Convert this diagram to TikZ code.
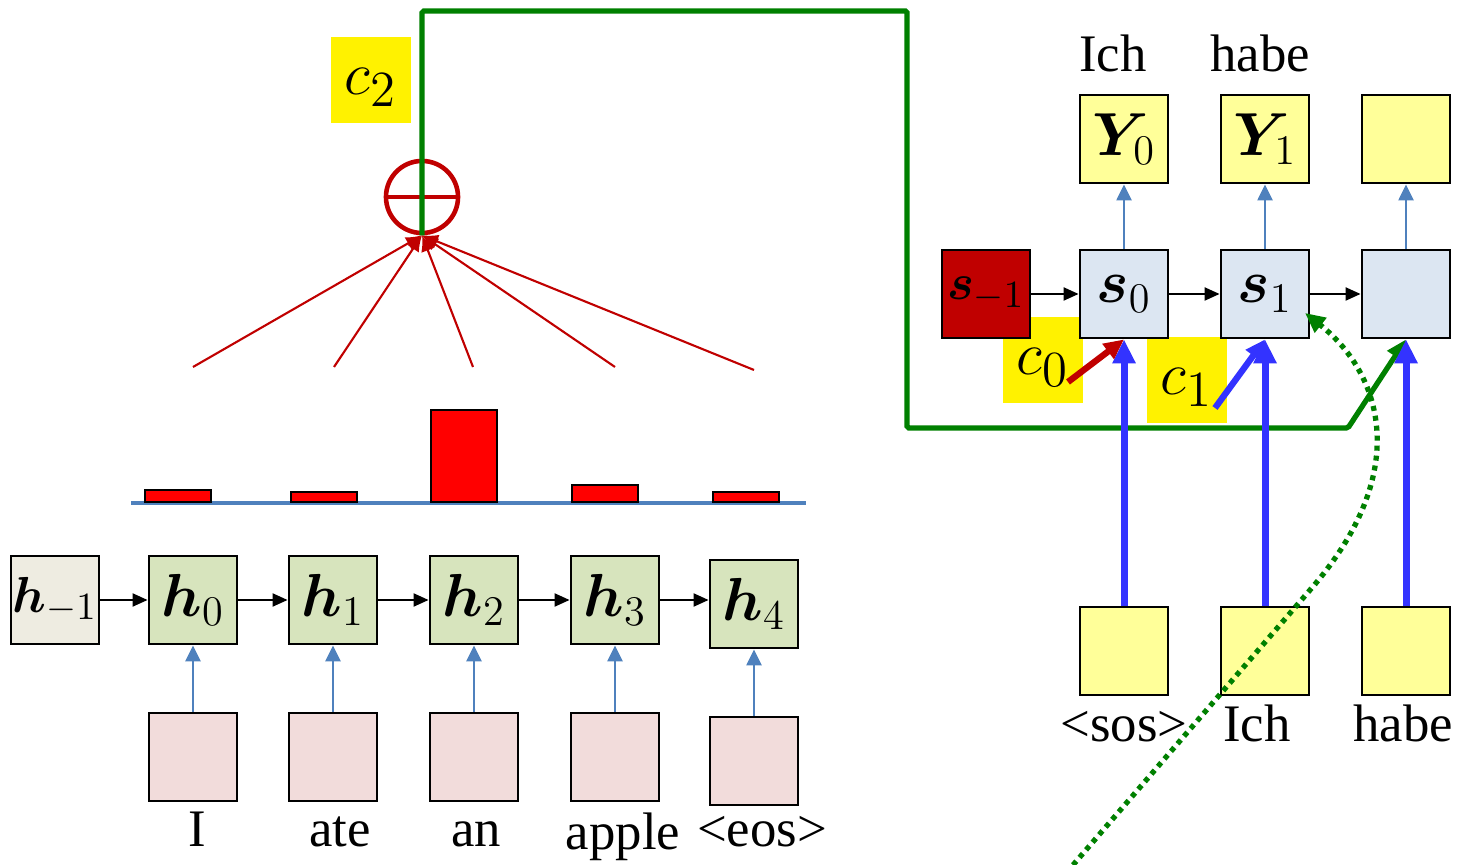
\documentclass[tikz,border=0pt]{standalone}
\usepackage{fontspec}
\setmainfont{Liberation Serif}
\usepackage{amsmath,bm}
\usetikzlibrary{arrows.meta,positioning}

\definecolor{encbeige}{HTML}{EEECE1}
\definecolor{encgreen}{HTML}{D7E4BD}
\definecolor{wordpink}{HTML}{F2DCDB}
\definecolor{decred}{HTML}{C00000}
\definecolor{decblue}{HTML}{DCE6F2}
\definecolor{paleyellow}{HTML}{FFFF99}
\definecolor{steel}{HTML}{4F81BD}
\definecolor{vivid}{HTML}{3333FF}
\definecolor{ctxgreen}{HTML}{008000}

\newcommand{\ctxlabel}[1]{\raisebox{-0.15cm}[0pt][0pt]{$#1$}}

\begin{document}
\begin{tikzpicture}[
  x=0.01cm, y=-0.01cm,
  font=\fontsize{15}{18}\selectfont,
  cell/.style={draw, line width=0.8pt, minimum size=0.88cm, inner sep=0pt, font=\fontsize{17.5}{20}\selectfont},
  hprev/.style={cell, fill=encbeige, font=\fontsize{15.5}{18}\selectfont},
  hstate/.style={cell, fill=encgreen},
  wordin/.style={cell, fill=wordpink},
  sprev/.style={cell, fill=decred, font=\fontsize{15.5}{18}\selectfont},
  sstate/.style={cell, fill=decblue},
  ybox/.style={cell, fill=paleyellow},
  ctxbox/.style={fill=yellow, minimum width=0.79cm, minimum height=0.86cm, inner sep=0pt, font=\fontsize{19}{22}\selectfont},
  word/.style={anchor=base, inner sep=0pt},
  bar/.style={draw, line width=0.5pt, fill=red, anchor=south, minimum width=0.66cm, inner sep=0pt},
  rec/.style={-{Triangle[length=0.15cm,width=0.13cm]}, line width=0.6pt},
  feed/.style={-{Triangle[length=0.16cm,width=0.15cm]}, line width=0.7pt, draw=steel},
  emb/.style={-{Triangle[length=0.24cm,width=0.22cm]}, line width=2pt, draw=vivid},
  weight/.style={-{Latex[length=0.16cm,width=0.14cm]}, line width=0.6pt, draw=decred},
  context/.style={-{Triangle[length=0.2cm,width=0.18cm]}, line width=1.5pt, draw=ctxgreen},
  teacher/.style={-{Triangle[length=0.2cm,width=0.18cm]}, line width=1.5pt, draw=ctxgreen, dash pattern=on 0.05cm off 0.05cm}
]
\useasboundingbox (0,0) rectangle (1458,865);

% encoder
\node[hprev] (hm1) at (55,600) {\makebox[0pt]{$\bm{h}_{-1}$}};
\node[hstate] (h0) at (193,600) {$\bm{h}_0$};
\node[hstate] (h1) at (333,600) {$\bm{h}_1$};
\node[hstate] (h2) at (474,600) {$\bm{h}_2$};
\node[hstate] (h3) at (615,600) {$\bm{h}_3$};
\node[hstate] (h4) at (754,604) {$\bm{h}_4$};

\node[wordin] (x0) at (193,757) {};
\node[wordin] (x1) at (333,757) {};
\node[wordin] (x2) at (474,757) {};
\node[wordin] (x3) at (615,757) {};
\node[wordin] (x4) at (754,761) {};

\node[word] (w0) at (197,847) {I};
\node[word] (w1) at (340,847) {ate};
\node[word] (w2) at (476,847) {an};
\node[word] (w3) at (623,850) {apple};
\node[word] (w4) at (762,847) {\textless eos\textgreater};

\draw[rec] (hm1) -- (h0);
\draw[rec] (h0) -- (h1);
\draw[rec] (h1) -- (h2);
\draw[rec] (h2) -- (h3);
\draw[rec] (h3) -- (h3 -| h4.west);

\draw[feed] (x0) -- (h0);
\draw[feed] (x1) -- (h1);
\draw[feed] (x2) -- (h2);
\draw[feed] (x3) -- (h3);
\draw[feed] (x4) -- (h4);

% attention weights
\coordinate (axl) at (131,503);
\coordinate (axr) at (806,503);
\draw[steel, line width=1.1pt] (axl) -- (axr);
\node[bar, minimum height=0.12cm] (b0) at (178,503) {};
\node[bar, minimum height=0.10cm] (b1) at (324,503) {};
\node[bar, minimum height=0.92cm] (b2) at (464,503) {};
\node[bar, minimum height=0.17cm] (b3) at (605,503) {};
\node[bar, minimum height=0.10cm] (b4) at (746,503) {};

\node[circle, draw=decred, line width=1.3pt, minimum size=0.72cm, inner sep=0pt] (attn) at (422,197) {};
\draw[decred, line width=1.3pt] (attn.west) -- (attn.east);

\coordinate (a0) at (193,367);
\coordinate (a1) at (334,367);
\coordinate (a2) at (473,367);
\coordinate (a3) at (615,367);
\coordinate (a4) at (754,370);
\draw[weight] (a0) -- (attn.south);
\draw[weight] (a1) -- (attn.south);
\draw[weight] (a2) -- (attn.south);
\draw[weight] (a3) -- (attn.south);
\draw[weight] (a4) -- (attn.south);

\node[ctxbox] (c2) at (371,80) {\ctxlabel{c_2}};

% decoder
\node[ctxbox] (c0) at (1043,360) {\ctxlabel{c_0}};
\node[ctxbox] (c1) at (1187,380) {\ctxlabel{c_1}};

\node[sprev] (sm1) at (986,294) {\makebox[0pt]{$\bm{s}_{-1}$}};
\node[sstate] (s0) at (1124,294) {$\bm{s}_0$};
\node[sstate] (s1) at (1265,294) {$\bm{s}_1$};
\node[sstate] (s2) at (1406,294) {};

\node[ybox] (y0) at (1124,139) {$\bm{Y}_0$};
\node[ybox] (y1) at (1265,139) {$\bm{Y}_1$};
\node[ybox] (y2) at (1406,139) {};
\node[word] (o0) at (1113,72) {Ich};
\node[word] (o1) at (1260,72) {habe};

\node[ybox] (e0) at (1124,651) {};
\node[ybox] (e1) at (1265,651) {};
\node[ybox] (e2) at (1406,651) {};
\node[word] (t0) at (1124,742) {\textless sos\textgreater};
\node[word] (t1) at (1257,742) {Ich};
\node[word] (t2) at (1403,742) {habe};

\draw[rec] (sm1) -- (s0);
\draw[rec] (s0) -- (s1);
\draw[rec] (s1) -- (s2);

\draw[feed] (s0) -- (y0);
\draw[feed] (s1) -- (y1);
\draw[feed] (s2) -- (y2);

% context vector path
\coordinate (gtop) at (907,11);
\coordinate (gbend) at (1348,428);
\draw[context, rounded corners=0.5pt] (attn.south) |- (gtop) |- (gbend) -- (s2.south);

\draw[emb] (e0) -- (s0);
\draw[emb] (e1) -- (s1);
\draw[emb] (e2) -- (s2);

\coordinate (c0tail) at (1068,382);
\coordinate (c1tail) at (1215,408);
\draw[emb, draw=decred, line width=1.8pt, -{Triangle[length=0.2cm,width=0.18cm]}] (c0tail) -- (s0.south);
\draw[emb, line width=1.8pt, -{Triangle[length=0.2cm,width=0.18cm]}] (c1tail) -- (s1.south);

% feeding back the output
\coordinate (dstart) at (1073,865);
\coordinate (dmid) at (1310,590);
\coordinate (dend) at (1305,313);
\draw[teacher] (dstart) -- (dmid) .. controls (1415,470) and (1380,372) .. (dend);

\end{tikzpicture}
\end{document}
